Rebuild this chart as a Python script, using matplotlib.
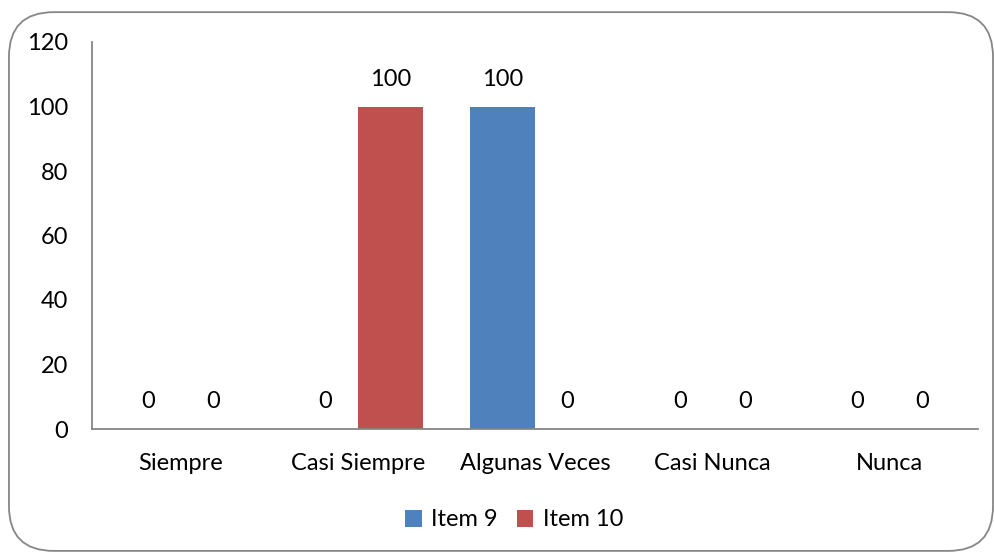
import matplotlib
matplotlib.use("Agg")
import matplotlib.pyplot as plt
from matplotlib.patches import FancyBboxPatch
import numpy as np

categories = ["Siempre", "Casi Siempre", "Algunas Veces", "Casi Nunca", "Nunca"]
item9 = [0, 0, 100, 0, 0]
item10 = [0, 100, 0, 0, 0]

plt.rcParams['font.family'] = ['Lato', 'DejaVu Sans']
fs = 17

fig = plt.figure(figsize=(9.95, 5.52), dpi=100)

# rounded chart border
border = FancyBboxPatch((0.009, 0.002), 0.989, 0.976,
                        boxstyle="round,pad=0,rounding_size=0.045",
                        transform=fig.transFigure, facecolor="none",
                        edgecolor="#868686", linewidth=1.3,
                        mutation_aspect=995 / 552, zorder=5)
fig.patches.append(border)

ax = fig.add_axes([92 / 995, 1 - 429 / 552, (978 - 92) / 995, (429 - 42) / 552])
ax.set_facecolor("none")

x = np.arange(len(categories))
w = 0.367
b9 = ax.bar(x - w / 2, item9, w, color="#4F81BD", label="Item 9")
b10 = ax.bar(x + w / 2, item10, w, color="#C0504D", label="Item 10")

for bars in (b9, b10):
    for r in bars:
        ax.text(r.get_x() + r.get_width() / 2, r.get_height() + 8.5,
                f"{int(r.get_height())}", ha="center", va="center", fontsize=fs)

ax.set_xlim(-0.5, len(categories) - 0.5)
ax.set_ylim(0, 120)
ax.set_yticks(range(0, 121, 20))
ax.set_xticks(x)
ax.set_xticklabels(categories)
ax.tick_params(axis="both", length=0, labelsize=fs)
ax.tick_params(axis="y", pad=17)
ax.tick_params(axis="x", pad=17)
for s in ("top", "right"):
    ax.spines[s].set_visible(False)
for s in ("left", "bottom"):
    ax.spines[s].set_color("#868686")
    ax.spines[s].set_linewidth(1.3)

ax.legend(loc="center", bbox_to_anchor=(514 / 995, 1 - 520 / 552), bbox_transform=fig.transFigure,
          ncol=2, frameon=False, fontsize=fs, handlelength=0.7, handleheight=0.7,
          handletextpad=0.4, columnspacing=0.8)

fig.savefig("out.png", dpi=100)
